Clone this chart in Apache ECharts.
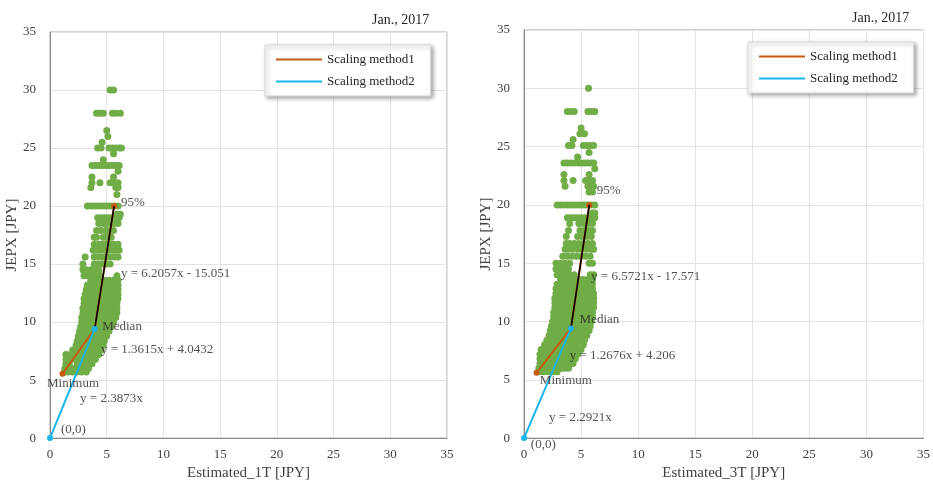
<!DOCTYPE html>
<html>
<head>
<meta charset="utf-8">
<script src="https://cdn.jsdelivr.net/npm/echarts@6/dist/echarts.min.js"></script>
<style>
  html, body { margin: 0; padding: 0; background: #ffffff; }
  #chart { width: 933px; height: 486px; }
</style>
</head>
<body>
<div id="chart"></div>
<script>
// ---- Observed JEPX prices vs. estimated prices, January 2017 ----
// Scatter rows: [JEPX price, [estimated prices...]]
const cloud1T = [
  [30.0, [5.3, 5.6]],
  [28.0, [4.1, 4.4, 4.7, 5.5, 5.8, 6.2]],
  [26.5, [5.0]],
  [26.0, [5.1]],
  [25.5, [4.6]],
  [25.0, [4.2, 4.5, 5.2, 5.5, 5.8, 6.1, 6.3]],
  [24.5, [5.6]],
  [24.0, [4.7]],
  [23.5, [3.7, 4.0, 4.3, 4.6, 4.9, 5.2, 5.5, 5.8, 6.1]],
  [23.0, [6.0]],
  [22.5, [3.7, 5.6]],
  [22.0, [3.7, 4.4, 5.3, 5.7, 6.0]],
  [21.6, [3.6, 5.8, 6.0]],
  [21.0, [5.9]],
  [20.0, [3.3, 3.6, 3.9, 4.2, 4.5, 4.8, 5.1, 5.4, 5.7, 6.0]],
  [19.3, [5.9, 6.2]],
  [19.0, [4.2, 4.5, 4.8, 5.1, 5.4, 5.8, 6.1]],
  [18.5, [4.3, 4.7, 5.0, 5.4, 5.7, 6.0]],
  [17.9, [4.1, 4.5, 4.9, 5.2, 5.6]],
  [17.3, [3.9, 4.1, 4.7, 5.0, 5.4]],
  [16.7, [3.9, 4.3, 4.6, 4.9, 5.3, 5.6, 6.0]],
  [16.2, [3.8, 4.1, 4.4, 4.8, 5.1, 5.5, 5.8, 6.1]],
  [15.6, [3.1, 3.9, 4.3, 4.6, 5.0, 5.3, 5.7, 6.0]],
  [15.0, [2.9, 3.9, 4.2, 4.6, 4.9, 5.3]],
  [14.5, [2.9, 3.2, 3.6, 3.9, 4.3]],
  [14.0, [3.0, 3.4, 3.7, 4.1, 4.4, 5.9]],
  [13.6, [3.6, 4.0, 4.4, 4.8, 5.2, 5.6, 6.0]],
  [13.2, [3.3, 3.7, 4.1, 4.5, 4.9, 5.3, 5.7, 6.0]],
  [12.8, [3.2, 3.6, 4.0, 4.4, 4.8, 5.2, 5.6, 6.0]],
  [12.4, [3.1, 3.5, 3.9, 4.3, 4.7, 5.1, 5.5, 5.9, 6.0]],
  [12.0, [3.0, 3.4, 3.8, 4.2, 4.6, 5.0, 5.4, 5.8, 6.0]],
  [11.6, [3.0, 3.4, 3.8, 4.2, 4.6, 5.0, 5.4, 5.7, 5.9]],
  [11.2, [2.9, 3.3, 3.7, 4.1, 4.5, 4.9, 5.3, 5.6, 5.9]],
  [10.8, [2.9, 3.3, 3.7, 4.1, 4.5, 4.9, 5.3, 5.6, 5.9]],
  [10.4, [2.8, 3.2, 3.6, 4.0, 4.4, 4.8, 5.2, 5.5, 5.8]],
  [10.0, [2.8, 3.2, 3.6, 4.0, 4.4, 4.8, 5.2, 5.6]],
  [9.6, [2.7, 3.1, 3.5, 3.9, 4.3, 4.7, 5.1, 5.4]],
  [9.2, [2.6, 3.0, 3.4, 3.8, 4.2, 4.6, 5.0, 5.2]],
  [8.8, [2.5, 2.9, 3.3, 3.7, 4.1, 4.5, 4.8, 5.0]],
  [8.4, [2.4, 2.8, 3.2, 3.6, 4.0, 4.4, 4.8]],
  [8.0, [2.3, 2.7, 3.1, 3.5, 3.9, 4.3, 4.7]],
  [7.6, [2.0, 2.4, 2.8, 3.2, 3.6, 4.0, 4.5]],
  [7.2, [1.4, 1.8, 2.2, 2.6, 3.0, 3.4, 3.8, 4.3]],
  [6.8, [1.4, 1.8, 2.2, 2.6, 3.0, 3.4, 3.7, 4.0]],
  [6.4, [1.4, 1.7, 2.4, 2.8, 3.2, 3.5, 3.7]],
  [6.0, [1.3, 1.7, 2.1, 2.5, 2.9, 3.2, 3.4]],
  [5.7, [1.3, 1.6, 2.0, 2.4, 2.8, 3.2]]
];

const cloud3T = [
  [30.0, [5.65]],
  [28.0, [3.8, 4.1, 4.4, 5.6, 5.9, 6.2]],
  [26.6, [5.0]],
  [26.1, [4.9, 5.3]],
  [25.6, [4.3]],
  [25.1, [3.9, 4.2, 5.2, 5.5, 5.8, 6.1]],
  [24.5, [5.7]],
  [24.1, [4.7]],
  [23.6, [3.5, 3.8, 4.1, 4.4, 4.7, 5.0, 5.3, 5.6, 5.9, 6.1]],
  [23.1, [6.2]],
  [22.6, [3.5, 5.7]],
  [22.1, [3.5, 4.3, 5.4, 5.7, 6.0]],
  [21.6, [3.6, 5.6, 5.9, 6.1]],
  [21.1, [5.7, 6.0]],
  [20.0, [2.9, 3.2, 3.5, 3.8, 4.1, 4.4, 4.7, 5.0, 5.3, 5.6, 5.9, 6.2]],
  [19.3, [6.0, 6.2]],
  [18.9, [3.8, 4.1, 4.4, 4.7, 5.0, 5.3, 5.6, 5.9, 6.2]],
  [18.4, [4.0, 4.8, 5.2, 5.6, 6.0]],
  [17.8, [3.9, 4.9, 5.3, 5.7, 6.0]],
  [17.3, [3.7, 4.7, 5.1, 5.5, 5.9]],
  [16.7, [3.7, 4.0, 4.4, 4.8, 5.2, 5.6, 6.0]],
  [16.2, [3.6, 3.9, 4.3, 4.7, 5.1, 5.5, 5.9, 6.1]],
  [15.6, [3.4, 3.8, 4.2, 4.6, 5.0, 5.4, 5.8]],
  [15.0, [2.8, 3.2, 3.6, 4.0, 5.7, 6.0]],
  [14.5, [2.8, 3.1, 3.5, 3.9]],
  [14.0, [2.9, 3.2, 3.6, 4.0, 4.4, 5.8, 6.1]],
  [13.6, [3.2, 3.6, 4.0, 4.4, 4.8, 5.2, 5.6, 6.0]],
  [13.2, [2.9, 3.3, 3.7, 4.1, 4.5, 4.9, 5.3, 5.7, 6.0]],
  [12.8, [2.8, 3.2, 3.6, 4.0, 4.4, 4.8, 5.2, 5.6, 6.0]],
  [12.4, [2.8, 3.2, 3.6, 4.0, 4.4, 4.8, 5.2, 5.6, 6.1]],
  [12.0, [2.7, 3.1, 3.5, 3.9, 4.3, 4.7, 5.1, 5.5, 5.9, 6.1]],
  [11.6, [2.7, 3.1, 3.5, 3.9, 4.3, 4.7, 5.1, 5.5, 5.9, 6.1]],
  [11.2, [2.7, 3.1, 3.5, 3.9, 4.3, 4.7, 5.1, 5.5, 5.9, 6.1]],
  [10.8, [2.6, 3.0, 3.4, 3.8, 4.2, 4.6, 5.0, 5.4, 5.8, 6.0]],
  [10.4, [2.6, 3.0, 3.4, 3.8, 4.2, 4.6, 5.0, 5.4, 5.8, 6.0]],
  [10.0, [2.5, 2.9, 3.3, 3.7, 4.1, 4.5, 4.9, 5.3, 5.7, 5.9]],
  [9.6, [2.4, 2.8, 3.2, 3.6, 4.0, 4.4, 4.8, 5.2, 5.6, 5.8]],
  [9.2, [2.3, 2.7, 3.1, 3.5, 3.9, 4.3, 4.7, 5.1, 5.5, 5.7]],
  [8.8, [2.2, 2.6, 3.0, 3.4, 3.8, 4.2, 4.6, 5.0, 5.5]],
  [8.4, [2.0, 2.4, 2.8, 3.2, 3.6, 4.0, 4.4, 4.8, 5.3]],
  [8.0, [1.8, 2.2, 2.6, 3.0, 3.4, 3.8, 4.2, 4.6, 5.2]],
  [7.6, [1.5, 1.9, 2.3, 2.7, 3.1, 3.5, 3.9, 4.3, 4.7, 5.0]],
  [7.2, [1.4, 1.8, 2.2, 2.6, 3.0, 3.4, 3.8, 4.2, 4.7]],
  [6.8, [1.4, 1.8, 2.2, 2.6, 3.0, 3.4, 3.8, 4.2, 4.5]],
  [6.4, [1.4, 1.8, 2.2, 2.6, 3.0, 3.4, 3.8, 4.3]],
  [6.0, [1.3, 1.7, 2.1, 2.5, 2.9, 3.3, 3.6, 3.9]],
  [5.7, [1.3, 1.7, 2.1, 2.5, 2.9]]
];

// Scaling lines: Minimum -> Median -> 95% (method 1), (0,0) -> Median (method 2)
const method1_1T = [[1.1, 5.54], [3.94, 9.41], [5.65, 20.0]];
const method2_1T = [[0, 0], [3.94, 9.41]];
const upper1T = [[3.94, 9.41], [5.65, 20.0]];

const method1_3T = [[1.1, 5.6], [4.11, 9.41], [5.72, 20.0]];
const method2_3T = [[0, 0], [4.11, 9.41]];
const upper3T = [[4.11, 9.41], [5.72, 20.0]];

const notes1T = ['95%', 'y = 6.2057x - 15.051', 'Median', 'y = 1.3615x + 4.0432', 'Minimum', 'y = 2.3873x', '(0,0)'];
const notes3T = ['95%', 'y = 6.5721x - 17.571', 'Median', 'y = 1.2676x + 4.206', 'Minimum', 'y = 2.2921x', '(0,0)'];

const xNames = ['Estimated_1T [JPY]', 'Estimated_3T [JPY]'];
const yName = 'JEPX [JPY]';
const periodLabel = 'Jan., 2017';
const legendNames = ['Scaling method1', 'Scaling method2'];

// ---- styling ----
const SERIF = 'Liberation Serif, Times New Roman, serif';
const GREEN = '#70AD47';
const ORANGE = '#C55A11';
const BLUE = '#19B5EE';

function expandRows(rows) {
  const pts = [];
  rows.forEach(([y, xs]) => xs.forEach(x => pts.push([x, y])));
  return pts;
}

// where each annotation text is anchored (data coordinates, left-aligned text)
const noteAnchors = [
  [[6.26, 20.3], [6.26, 14.15], [4.6, 9.6], [4.5, 7.67], [-0.26, 4.7], [2.65, 3.4], [0.97, 0.77]],
  [[6.37, 21.27], [5.88, 13.85], [4.87, 10.14], [4.0, 7.11], [1.39, 4.9], [2.2, 1.78], [0.6, -0.54]]
];

const panels = [
  { cloud: cloud1T, m1: method1_1T, m2: method2_1T, up: upper1T, notes: notes1T },
  { cloud: cloud3T, m1: method1_3T, m2: method2_3T, up: upper3T, notes: notes3T }
];

const grids = [
  { left: 50, top: 32, width: 397, height: 411 },
  { left: 524, top: 30, width: 403, height: 412 }
];

const axisText = { color: '#404040', fontFamily: SERIF, fontSize: 13 };

const xAxes = [], yAxes = [], series = [];
panels.forEach((p, i) => {
  xAxes.push({
    type: 'value', gridIndex: i, min: 0, max: 35, interval: 5,
    name: xNames[i], nameLocation: 'middle', nameGap: 27,
    nameTextStyle: { color: '#404040', fontFamily: SERIF, fontSize: 15 },
    axisLine: { show: true, onZero: false, lineStyle: { color: '#8c8c8c', width: 1 } },
    axisTick: { show: false },
    axisLabel: Object.assign({ margin: 10 }, axisText),
    splitLine: { show: true, lineStyle: { color: '#e3e3e3', width: 1 } }
  });
  yAxes.push({
    type: 'value', gridIndex: i, min: 0, max: 35, interval: 5,
    name: yName, nameLocation: 'middle', nameGap: 29, nameRotate: 90,
    nameTextStyle: { color: '#404040', fontFamily: SERIF, fontSize: 15 },
    axisLine: { show: true, onZero: false, lineStyle: { color: '#8c8c8c', width: 1 } },
    axisTick: { show: false },
    axisLabel: Object.assign({ margin: 14 }, axisText),
    splitLine: { show: true, lineStyle: { color: '#e3e3e3', width: 1 } }
  });

  series.push({
    type: 'scatter', xAxisIndex: i, yAxisIndex: i, z: 1,
    symbol: 'circle', symbolSize: 7,
    itemStyle: { color: GREEN, opacity: 1 },
    data: expandRows(p.cloud), silent: true
  });
  series.push({
    name: legendNames[0], type: 'line', xAxisIndex: i, yAxisIndex: i, z: 3,
    data: p.m1, symbol: 'circle', symbolSize: 6, showAllSymbol: true,
    lineStyle: { color: ORANGE, width: 2 }, itemStyle: { color: ORANGE },
    animation: false
  });
  series.push({
    type: 'line', xAxisIndex: i, yAxisIndex: i, z: 4,
    data: p.up, symbol: 'none',
    lineStyle: { color: '#000000', width: 1.6 },
    animation: false
  });
  series.push({
    name: legendNames[1], type: 'line', xAxisIndex: i, yAxisIndex: i, z: 5,
    data: p.m2, symbol: 'circle', symbolSize: 6, showAllSymbol: true,
    lineStyle: { color: BLUE, width: 2 }, itemStyle: { color: BLUE },
    clip: false, animation: false
  });
  // annotation texts
  series.push({
    type: 'scatter', xAxisIndex: i, yAxisIndex: i, z: 6, silent: true,
    symbolSize: 0, animation: false, clip: false,
    data: p.notes.map((t, k) => ({ name: t, value: noteAnchors[i][k] })),
    label: {
      show: true, position: 'inside', formatter: '{b}',
      align: 'left', verticalAlign: 'middle',
      color: '#262626', fontFamily: SERIF, fontSize: 13
    }
  });
});

const legendBase = {
  orient: 'vertical', itemWidth: 46, itemHeight: 2, itemGap: 9, icon: 'rect',
  data: legendNames, backgroundColor: '#ffffff',
  borderColor: '#d9d9d9', borderWidth: 1,
  shadowColor: 'rgba(0,0,0,0.35)', shadowBlur: 4, shadowOffsetX: 2, shadowOffsetY: 2,
  padding: [8, 16, 8, 11],
  textStyle: { color: '#262626', fontFamily: SERIF, fontSize: 13 },
  selectedMode: false
};

const chart = echarts.init(document.getElementById('chart'), null, { renderer: 'canvas' });
chart.setOption({
  animation: false,
  backgroundColor: '#ffffff',
  title: [
    { text: periodLabel, left: 367, top: 8, textStyle: { color: '#262626', fontFamily: SERIF, fontSize: 14, fontWeight: 'normal' } },
    { text: periodLabel, left: 847, top: 6, textStyle: { color: '#262626', fontFamily: SERIF, fontSize: 14, fontWeight: 'normal' } }
  ],
  legend: [
    Object.assign({ left: 265, top: 45 }, legendBase),
    Object.assign({ left: 748, top: 42 }, legendBase)
  ],
  grid: grids.map(g => Object.assign({ show: true, borderColor: '#a6a6a6', borderWidth: 1, backgroundColor: 'transparent' }, g)),
  xAxis: xAxes,
  yAxis: yAxes,
  series: series
});
</script>
</body>
</html>
